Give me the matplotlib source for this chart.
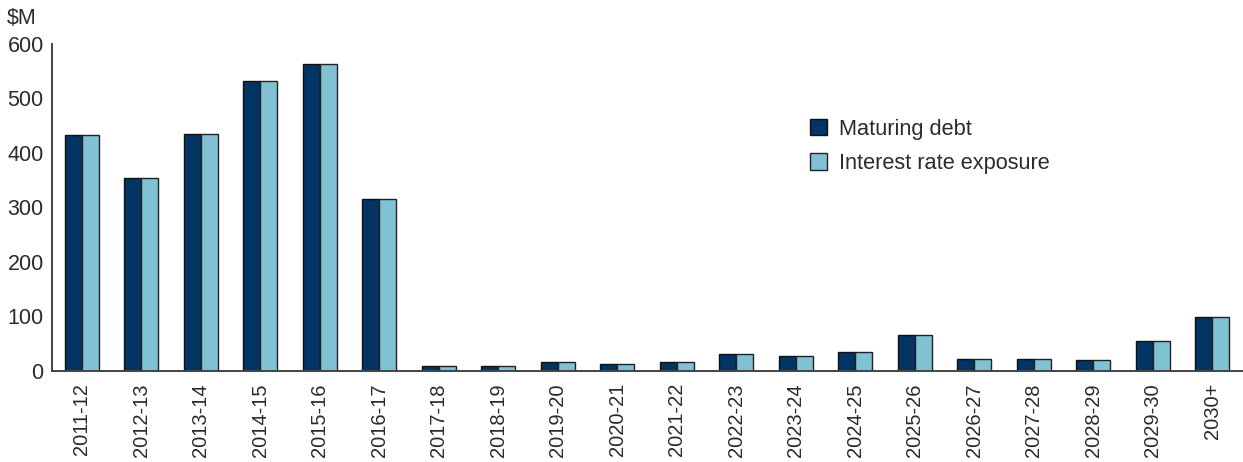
import matplotlib
matplotlib.use("Agg")
import matplotlib.pyplot as plt
import numpy as np

years = ["2011-12", "2012-13", "2013-14", "2014-15", "2015-16", "2016-17",
         "2017-18", "2018-19", "2019-20", "2020-21", "2021-22", "2022-23",
         "2023-24", "2024-25", "2025-26", "2026-27", "2027-28", "2028-29",
         "2029-30", "2030+"]
maturing_debt = [433, 354, 435, 532, 564, 315, 9, 9, 15, 12, 15, 31,
                 26, 35, 66, 21, 21, 19, 54, 98]
interest_rate_exposure = [433, 354, 435, 532, 564, 315, 9, 9, 15, 12, 15, 31,
                          26, 35, 66, 21, 21, 19, 54, 98]
y_ticks = [0, 100, 200, 300, 400, 500, 600]

plt.rcParams['font.family'] = ['Liberation Sans', 'DejaVu Sans']
text_color = '#2b2b2b'
dark = '#023564'
light = '#80C1D4'

fig = plt.figure(figsize=(12.43, 4.62), dpi=100)
ax = fig.add_axes([52 / 1243, 1 - 370.6 / 462, 1 - 52 / 1243, (370.6 - 44) / 462])

x = np.arange(len(years))
w = 0.285
ax.bar(x - w / 2, maturing_debt, w, color=dark, edgecolor='#111111',
       linewidth=1.0, label='Maturing debt')
ax.bar(x + w / 2, interest_rate_exposure, w, color=light, edgecolor='#222222',
       linewidth=1.0, label='Interest rate exposure')

ax.set_xlim(-0.5, len(years) - 0.48)
ax.set_ylim(0, 600)
ax.set_yticks(y_ticks)
ax.set_yticklabels([str(t) for t in y_ticks], fontsize=15.5, color=text_color)
ax.set_xticks(x)
ax.set_xticklabels(years, rotation=90, fontsize=14.5, color=text_color)
ax.tick_params(axis='both', length=0)
ax.tick_params(axis='y', pad=6)
ax.tick_params(axis='x', pad=9)

for side in ['top', 'right']:
    ax.spines[side].set_visible(False)
for side in ['left', 'bottom']:
    ax.spines[side].set_color('#444444')
    ax.spines[side].set_linewidth(1.4)

fig.text(7 / 1243, 1 - 18 / 462, '$M', fontsize=15.5, color=text_color,
         va='center', ha='left')

leg = ax.legend(loc='upper left', bbox_to_anchor=(834 / 1243 - 52 / 1243, 1 - (110 - 44) / 326.6),
                bbox_transform=ax.transAxes, frameon=False, fontsize=15.7,
                handlelength=0.8, handleheight=0.8, handletextpad=0.53,
                labelspacing=0.62, borderaxespad=0)
for t in leg.get_texts():
    t.set_color(text_color)

fig.savefig('out.png', dpi=100)
